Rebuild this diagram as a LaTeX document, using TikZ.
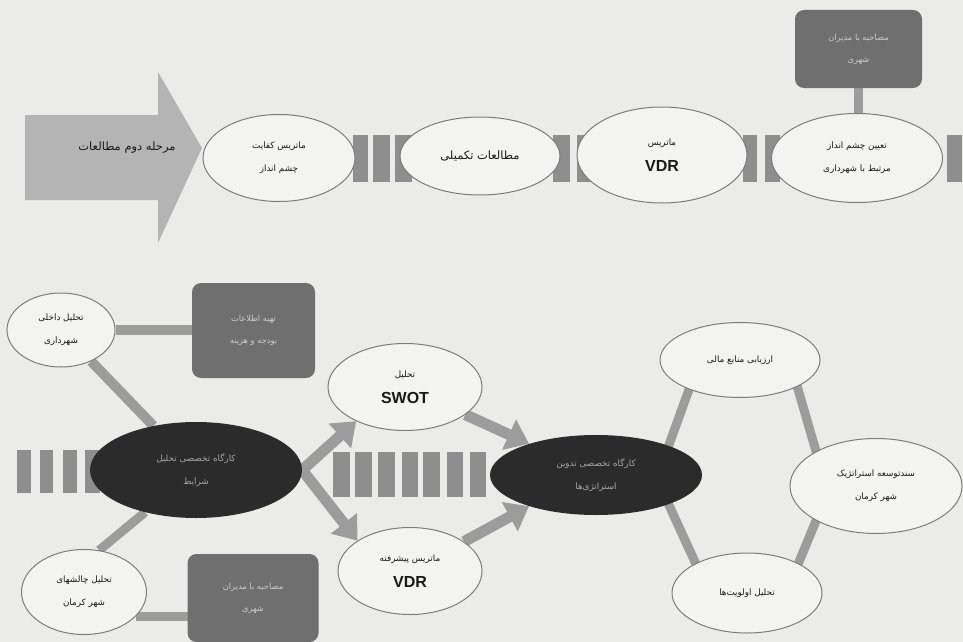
\documentclass[tikz,border=0pt]{standalone}
\usepackage{fontspec}
\usetikzlibrary{arrows.meta,shapes.geometric,calc}
\TeXXeTstate=1
\newfontfamily\arabicfont[Script=Arabic]{DejaVu Sans}
\newfontfamily\latinfont{Liberation Sans}
\newcommand\fatxt[1]{{\arabicfont\beginR #1\endR}}
\newcommand\lattxt[1]{{\latinfont\bfseries\fontsize{16}{18}\selectfont #1}}
\definecolor{paper}{HTML}{EBEBE9}
\definecolor{ellfill}{HTML}{F3F3F1}
\definecolor{ellborder}{HTML}{7C7C7C}
\definecolor{blackell}{HTML}{2B2B2B}
\definecolor{boxgray}{HTML}{6F6F6F}
\definecolor{bargray}{HTML}{8E8E8E}
\definecolor{linkgray}{HTML}{9C9C9C}
\definecolor{arrowgray}{HTML}{B4B4B4}
\pgfdeclarelayer{paperlayer}
\pgfdeclarelayer{linklayer}
\pgfsetlayers{paperlayer,linklayer,main}
\begin{document}
\begin{tikzpicture}[x=1pt,y=-1pt,
  lightell/.style={ellipse, draw=ellborder, line width=1pt, fill=ellfill, inner sep=0pt,
    align=center, text=black!90, font=\fontsize{8.8}{23}\selectfont},
  darkell/.style={ellipse, fill=blackell, inner sep=0pt, align=center,
    text=black!35, font=\fontsize{8.8}{23}\selectfont},
  darkbox/.style={rectangle, rounded corners=9pt, fill=boxgray, inner sep=0pt, align=center,
    text=black!20, font=\fontsize{8.3}{22}\selectfont},
  link/.style={draw=linkgray, line width=9pt},
  fatarrow/.style={draw=linkgray, line width=11pt, -{Triangle[width=32pt,length=22pt]}},
  bar/.style={fill=bargray}
]
\useasboundingbox (0,0) rectangle (963,642);
\begin{pgfonlayer}{paperlayer}
  \fill[paper] (0,0) rectangle (963,642);
  % big arrow
  \fill[arrowgray] (25,115) -- (158,115) -- (158,72) -- (202,148) -- (158,243) -- (158,200) -- (25,200) -- cycle;
  % top row bars
  \foreach \a/\b in {353/368,373/390,395/412,553/570,577/597,743/757,765/780,947/962}
    \fill[bar] (\a,135) rectangle (\b,182);
  % bottom-left bars
  \foreach \a/\b in {17/31,40/53,63/77,85/100}
    \fill[bar] (\a,450) rectangle (\b,493);
  % middle bars
  \foreach \a/\b in {333/350,355/372,378/395,402/418,423/440,447/463,470/486}
    \fill[bar] (\a,452) rectangle (\b,497);
\end{pgfonlayer}

% top row
\node[font=\fontsize{11.5}{22}\selectfont, text=black!90] (arr) at (127,148) {\fatxt{مرحله دوم مطالعات}};
\node[lightell, minimum width=152pt, minimum height=87pt] (T1) at (279,158) {\fatxt{ماتریس کفایت}\\\fatxt{چشم انداز}};
\node[lightell, minimum width=160pt, minimum height=78pt, font=\fontsize{11.5}{22}\selectfont] (T2) at (480,156) {\fatxt{مطالعات تکمیلی}};
\node[lightell, minimum width=170pt, minimum height=96pt, font=\fontsize{8.8}{26}\selectfont] (T3) at (662,155) {\fatxt{ماتریس}\\\lattxt{VDR}};
\node[lightell, minimum width=171pt, minimum height=89pt] (T4) at (857,158) {\fatxt{تعیین چشم انداز}\\\fatxt{مرتبط با شهرداری}};
\node[darkbox, minimum width=127pt, minimum height=78pt] (TB) at (858.5,49) {\fatxt{مصاحبه با مدیران}\\\fatxt{شهری}};

% bottom left
\node[lightell, minimum width=108pt, minimum height=74pt] (A) at (61,330) {\fatxt{تحلیل داخلی}\\\fatxt{شهرداری}};
\node[darkbox, minimum width=123pt, minimum height=95pt] (B) at (253.5,330.5) {\fatxt{تهیه اطلاعات}\\\fatxt{بودجه و هزینه}};
\node[darkell, minimum width=212pt, minimum height=96pt] (C) at (196,470) {\fatxt{کارگاه تخصصی تحلیل}\\\fatxt{شرایط}};
\node[lightell, minimum width=125pt, minimum height=85pt] (D) at (84,592) {\fatxt{تحلیل چالشهای}\\\fatxt{شهر کرمان}};
\node[darkbox, minimum width=131pt, minimum height=88pt] (E) at (253,598) {\fatxt{مصاحبه با مدیران}\\\fatxt{شهری}};

% middle
\node[lightell, minimum width=154pt, minimum height=87pt, font=\fontsize{8.8}{26}\selectfont] (F) at (405,387) {\fatxt{تحلیل}\\\lattxt{SWOT}};
\node[lightell, minimum width=144pt, minimum height=87pt, font=\fontsize{8.8}{26}\selectfont] (G) at (410,571) {\fatxt{ماتریس پیشرفته}\\\lattxt{VDR}};
\node[darkell, minimum width=212pt, minimum height=80pt] (H) at (596,475) {\fatxt{کارگاه تخصصی تدوین}\\\fatxt{استراتژی‌ها}};

% right
\node[lightell, minimum width=160pt, minimum height=75pt] (I) at (740,360) {\fatxt{ارزیابی منابع مالی}};
\node[lightell, minimum width=172pt, minimum height=95pt] (J) at (876,486) {\fatxt{سندتوسعه استراتژیک}\\\fatxt{شهر کرمان}};
\node[lightell, minimum width=150pt, minimum height=80pt] (K) at (747,593) {\fatxt{تحلیل اولویت‌ها}};

\begin{pgfonlayer}{linklayer}
  \draw[link] (TB) -- (TB |- T4);
  \draw[link, line width=10pt] (A) -- (A -| B);
  \draw[link, line width=10pt] (A) -- (C);
  \draw[link] (C) -- (D.70);
  \draw[link] (D.-25) -- (D.-25 -| E);
  \draw[fatarrow] (C.east) -- (F.215);
  \draw[fatarrow] (C.east) -- (G.150);
  \draw[fatarrow] (F) -- (H.155);
  \draw[fatarrow] (G) -- (H.-155);
  \draw[link, shorten <=-4pt, shorten >=-4pt] (H.22) -- (I.210);
  \draw[link, shorten <=-4pt, shorten >=-4pt] (H.-22) -- (K.150);
  \draw[link, shorten <=-4pt, shorten >=-4pt] (I.-25) -- (J.150);
  \draw[link, shorten <=-4pt, shorten >=-4pt] (J.-150) -- (K.30);
\end{pgfonlayer}
\end{tikzpicture}
\end{document}
